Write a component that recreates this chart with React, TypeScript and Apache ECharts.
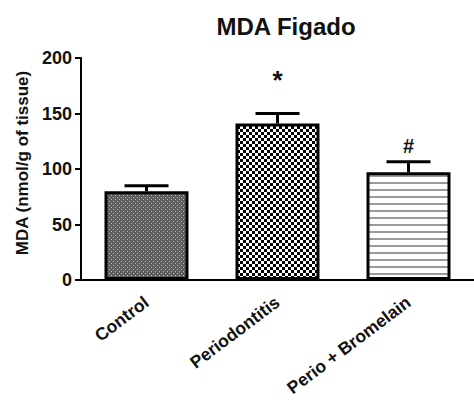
import React, { useEffect, useRef } from "react";
import * as echarts from "echarts";

const categories = ["Control", "Periodontitis", "Perio + Bromelain"];
const means = [80, 141, 97];
const errors = [5, 9, 9.5];
const marks = ["", "*", "#"];
const markValues = [0, 180, 121];
const yTicks = { min: 0, max: 200, interval: 50 };

const FONT = "'Liberation Sans', Arial, Helvetica, sans-serif";

function makePattern(kind: string): HTMLCanvasElement {
  const c = document.createElement("canvas");
  const ctx = c.getContext("2d")!;
  if (kind === "fine") {
    c.width = 4; c.height = 4;
    ctx.fillStyle = "#5e5e5e"; ctx.fillRect(0, 0, 4, 4);
    ctx.fillStyle = "#bdbdbd";
    ctx.fillRect(1, 1, 1, 1); ctx.fillRect(3, 3, 1, 1);
  } else if (kind === "checker") {
    c.width = 6; c.height = 6;
    ctx.fillStyle = "#000"; ctx.fillRect(0, 0, 6, 6);
    ctx.fillStyle = "#fff";
    ctx.fillRect(0, 0, 3, 3); ctx.fillRect(3, 3, 3, 3);
  } else {
    c.width = 4; c.height = 7;
    ctx.fillStyle = "#fff"; ctx.fillRect(0, 0, 4, 7);
    ctx.fillStyle = "#9a9a9a"; ctx.fillRect(0, 0, 4, 2);
  }
  return c;
}

export default function App() {
  const ref = useRef<HTMLDivElement>(null);
  useEffect(() => {
    if (!ref.current) return;
    const chart = echarts.init(ref.current, null, { renderer: "svg" });
    const kinds = ["fine", "checker", "stripes"];
    const barData = means.map((v, i) => ({
      value: v,
      itemStyle: {
        color: { image: makePattern(kinds[i]), repeat: "repeat" } as any,
        borderColor: "#000",
        borderWidth: 3,
      },
    }));
    chart.setOption({
      animation: false,
      backgroundColor: "#fff",
      title: {
        text: "MDA Figado",
        left: 281,
        textAlign: "center",
        top: 9,
        textStyle: { fontFamily: FONT, fontWeight: "bold", fontSize: 24, color: "#111" },
      },
      graphic: [
        {
          type: "text",
          x: 22,
          y: 163,
          rotation: Math.PI / 2,
          style: {
            text: "MDA (nmol/g of tissue)",
            align: "center",
            verticalAlign: "middle",
            font: `bold 17px ${FONT}`,
            fill: "#111",
          },
        },
      ],
      grid: { left: 81, top: 58, width: 398, bottom: 122, containLabel: false },
      xAxis: {
        type: "category",
        data: categories,
        axisLine: { lineStyle: { color: "#000", width: 2 } },
        axisTick: { alignWithLabel: true, length: 5, lineStyle: { color: "#000", width: 2 } },
        axisLabel: {
          rotate: 37,
          margin: 20,
          interval: 0,
          fontFamily: FONT,
          fontWeight: "bold",
          fontSize: 17.5,
          color: "#111",
        },
      },
      yAxis: {
        type: "value",
        min: yTicks.min,
        max: yTicks.max,
        interval: yTicks.interval,
        splitLine: { show: false },
        axisLine: { show: true, lineStyle: { color: "#000", width: 2 } },
        axisTick: { show: true, length: 6, lineStyle: { color: "#000", width: 2 } },
        axisLabel: { margin: 9, fontFamily: FONT, fontWeight: "bold", fontSize: 18, color: "#111" },
      },
      series: [
        {
          type: "custom",
          z: 1,
          data: means.map((m, i) => [i, m, errors[i]]),
          renderItem: (params: any, api: any) => {
            const i = api.value(0);
            const m = api.value(1);
            const e = api.value(2);
            const p0 = api.coord([i, m]);
            const p1 = api.coord([i, m + e]);
            return {
              type: "group",
              children: [
                { type: "line", shape: { x1: p0[0], y1: p0[1], x2: p1[0], y2: p1[1] }, style: { stroke: "#000", lineWidth: 3 } },
                { type: "line", shape: { x1: p1[0] - 22, y1: p1[1], x2: p1[0] + 22, y2: p1[1] }, style: { stroke: "#000", lineWidth: 3 } },
              ],
            };
          },
        },
        {
          type: "bar",
          z: 2,
          barWidth: 84,
          data: barData,
        },
        {
          type: "custom",
          z: 3,
          data: markValues.map((v, i) => [i, v, marks[i]]),
          renderItem: (params: any, api: any) => {
            const idx = params.dataIndex;
            const t = marks[idx];
            if (!t) return null;
            const p = api.coord([api.value(0), api.value(1)]);
            return {
              type: "text",
              x: p[0],
              y: p[1],
              style: {
                text: t,
                align: "center",
                verticalAlign: "middle",
                font: `bold ${t === "*" ? 26 : 20}px ${FONT}`,
                fill: "#111",
              },
            };
          },
        },
      ],
    });
    return () => chart.dispose();
  }, []);
  return (
    <div
      ref={ref}
      style={{ position: "absolute", left: 0, top: 0, width: 474, height: 402 }}
    />
  );
}
